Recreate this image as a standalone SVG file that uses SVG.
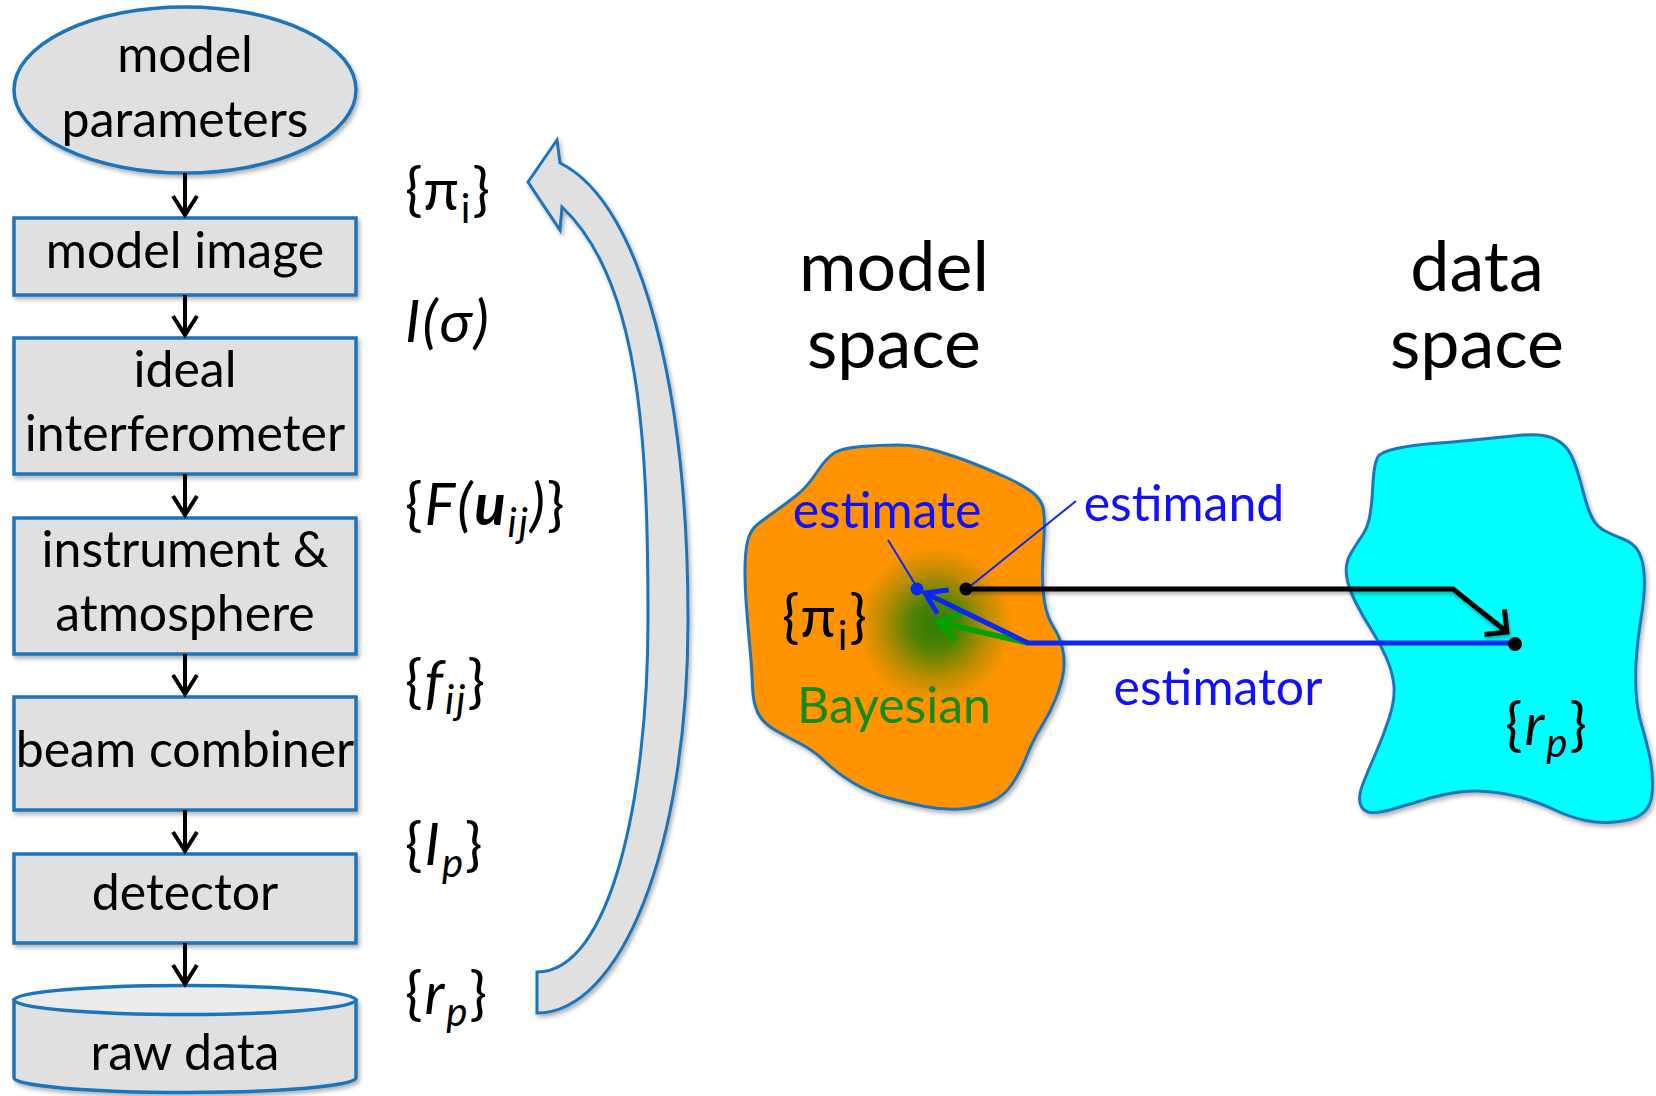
<svg xmlns="http://www.w3.org/2000/svg" width="1656" height="1096" viewBox="0 0 1656 1096">
<style>
text{font-family:Lato,"Open Sans","Liberation Sans",sans-serif;fill:#000}
.box{fill:#e0e0e0;stroke:#1b75bb;stroke-width:3.5}
.lbl{font-size:50px;text-anchor:middle}
.ttl{font-size:70px;text-anchor:middle}
.math{font-size:58px;letter-spacing:2px}
.it{font-style:italic}
.sub{font-size:40px}
.blue{fill:#1010ff}
.green{fill:#148a18}
.vline{stroke:#000;stroke-width:4;fill:none}
.blob{stroke:#1b75bb;stroke-width:3}
</style>
<defs>
<filter id="sh" x="-10%" y="-10%" width="125%" height="125%">
<feDropShadow dx="2" dy="3" stdDeviation="2" flood-color="#000" flood-opacity="0.3"/>
</filter>
<filter id="lsh" x="-5%" y="-50%" width="110%" height="200%">
<feDropShadow dx="1" dy="3" stdDeviation="1.5" flood-color="#000" flood-opacity="0.25"/>
</filter>
<radialGradient id="glow" cx="0.5" cy="0.5" r="0.5">
<stop offset="0" stop-color="#347d06" stop-opacity="1"/>
<stop offset="0.3" stop-color="#3a7f06" stop-opacity="0.9"/>
<stop offset="0.7" stop-color="#4a8004" stop-opacity="0.35"/>
<stop offset="1" stop-color="#4a8004" stop-opacity="0"/>
</radialGradient>
<marker id="ahv" markerUnits="userSpaceOnUse" viewBox="-25 -16 30 32" markerWidth="30" markerHeight="32" refX="0" refY="0" orient="auto" overflow="visible">
<path d="M -19,-12 L 0,0 L -19,12" fill="none" stroke="#000" stroke-width="4"/>
</marker>
<marker id="ahk" markerUnits="userSpaceOnUse" viewBox="-25 -20 30 40" markerWidth="30" markerHeight="40" refX="0" refY="0" orient="auto" overflow="visible">
<path d="M -16,-16 L 0,0 L -16,16" fill="none" stroke="#000" stroke-width="5"/>
</marker>
<marker id="ahb" markerUnits="userSpaceOnUse" viewBox="-25 -16 30 32" markerWidth="30" markerHeight="32" refX="0" refY="0" orient="auto" overflow="visible">
<path d="M -20,-13 L 0,0 L -20,13" fill="none" stroke="#0a28f5" stroke-width="5"/>
</marker>
<marker id="ahg" markerUnits="userSpaceOnUse" viewBox="-25 -16 30 32" markerWidth="30" markerHeight="32" refX="0" refY="0" orient="auto" overflow="visible">
<path d="M -22,-14 L 0,0 L -22,14" fill="none" stroke="#00a300" stroke-width="5.5"/>
</marker>
</defs>
<rect width="1656" height="1096" fill="#fff"/>

<g id="model-parameters">
<ellipse cx="185" cy="90" rx="171" ry="83" class="box" filter="url(#sh)"/>
<text class="lbl" x="185" y="72">model</text>
<text class="lbl" x="185" y="137">parameters</text>
</g>
<g id="model-image">
<rect x="14" y="218" width="342" height="77" class="box" filter="url(#sh)"/>
<text class="lbl" x="185" y="268">model image</text>
</g>
<g id="ideal-interferometer">
<rect x="14" y="338" width="342" height="136" class="box" filter="url(#sh)"/>
<text class="lbl" x="185" y="387">ideal</text>
<text class="lbl" x="185" y="451">interferometer</text>
</g>
<g id="instrument-atmosphere">
<rect x="14" y="518" width="342" height="136" class="box" filter="url(#sh)"/>
<text class="lbl" x="185" y="567">instrument &amp;</text>
<text class="lbl" x="185" y="631">atmosphere</text>
</g>
<g id="beam-combiner">
<rect x="14" y="697" width="342" height="113" class="box" filter="url(#sh)"/>
<text class="lbl" x="185" y="767">beam combiner</text>
</g>
<g id="detector">
<rect x="14" y="854" width="342" height="89" class="box" filter="url(#sh)"/>
<text class="lbl" x="185" y="910">detector</text>
</g>
<g id="raw-data">
<path d="M 14,1000 L 14,1078 A 171 14.5 0 0 0 356,1078 L 356,1000 Z" class="box" filter="url(#sh)"/>
<ellipse cx="185" cy="1000" rx="171" ry="14.5" class="box" style="fill:#ececec"/>
<text class="lbl" x="185" y="1070">raw data</text>
</g>

<g id="feedback-arrow">
<path d="M 528,182 L 557,140 L 560,163 C 645,205 688,400 688,620 C 688,850 620,1013 537,1013 L 537,972 C 610,972 648,800 648,620 C 648,440 640,280 562,207 L 560,230 Z" fill="#e0e0e0" stroke="#1b75bb" stroke-width="3" filter="url(#sh)"/>
</g>

<g id="math-labels">
<text class="math" x="405" y="210">{π<tspan class="sub" dy="13">i</tspan><tspan dy="-13">}</tspan></text>
<text class="math it" x="405" y="342">I(σ)</text>
<text class="math" x="405" y="525">{<tspan class="it">F(</tspan><tspan class="it" font-weight="bold">u</tspan><tspan class="sub it" dy="12">ij</tspan><tspan class="it" dy="-12">)</tspan>}</text>
<text class="math" x="405" y="702">{<tspan class="it">f</tspan><tspan class="sub it" dy="12">ij</tspan><tspan dy="-12">}</tspan></text>
<text class="math" x="405" y="865">{<tspan class="it">I</tspan><tspan class="sub it" dy="12">p</tspan><tspan dy="-12">}</tspan></text>
<text class="math" x="405" y="1014">{<tspan class="it">r</tspan><tspan class="sub it" dy="12">p</tspan><tspan dy="-12">}</tspan></text>
</g>

<g id="model-space">
<text class="ttl" x="894" y="291">model</text>
<text class="ttl" x="894" y="368">space</text>
<path class="blob" fill="#ff9400" filter="url(#sh)" d="M 747.5,541.5 Q 750,530 758.5,523.5 Q 767,517 777,510 Q 787,503 797,495 Q 807,487 817,472 Q 827,457 835,452.5 Q 843,448 861.5,446.5 Q 880,445 898.5,445 Q 917,445 937,451 Q 957,457 973.5,463.5 Q 990,470 1006.5,477.5 Q 1023,485 1032.5,492.5 Q 1042,500 1043.5,510 Q 1045,520 1044,536.5 Q 1043,553 1042.5,570 Q 1042,587 1044.5,602 Q 1047,617 1053.5,627 Q 1060,637 1062.5,648.5 Q 1065,660 1063.5,671.5 Q 1062,683 1056,698 Q 1050,713 1041.5,726.5 Q 1033,740 1026.5,756.5 Q 1020,773 1011.5,785 Q 1003,797 990,802.5 Q 977,808 960,809 Q 943,810 925,806.5 Q 907,803 888.5,798 Q 870,793 853.5,783 Q 837,773 825,761.5 Q 813,750 800,743.5 Q 787,737 775,730 Q 763,723 758,713 Q 753,703 752.5,686.5 Q 752,670 750,648.5 Q 748,627 746.5,607 Q 745,587 745,570 Q 745,553 747.5,541.5 Z"/>
<circle cx="935" cy="625" r="78" fill="url(#glow)"/>
<text class="math" x="782" y="637">{π<tspan class="sub" dy="13">i</tspan><tspan dy="-13">}</tspan></text>
<text class="lbl blue" x="887" y="528">estimate</text>
<text class="lbl green" x="894" y="723">Bayesian</text>
</g>

<g id="data-space">
<text class="ttl" x="1477" y="291">data</text>
<text class="ttl" x="1477" y="368">space</text>
<path class="blob" fill="#00ffff" filter="url(#sh)" d="M 1374,471.5 Q 1375,463 1377.5,457.5 Q 1380,452 1396.5,448.5 Q 1413,445 1433,443.5 Q 1453,442 1473,440 Q 1493,438 1513,436 Q 1533,434 1543,435.5 Q 1553,437 1560,442 Q 1567,447 1571,455 Q 1575,463 1578.5,475 Q 1582,487 1585,498.5 Q 1588,510 1592.5,518.5 Q 1597,527 1605,531 Q 1613,535 1623,539 Q 1633,543 1637.5,550 Q 1642,557 1643.5,568.5 Q 1645,580 1644,593.5 Q 1643,607 1640.5,622 Q 1638,637 1636.5,655 Q 1635,673 1636,691.5 Q 1637,710 1642,726.5 Q 1647,743 1650,758 Q 1653,773 1652.5,788 Q 1652,803 1646,810 Q 1640,817 1630,819.5 Q 1620,822 1608.5,822.5 Q 1597,823 1583.5,820 Q 1570,817 1555,810 Q 1540,803 1526.5,799 Q 1513,795 1496.5,792.5 Q 1480,790 1463.5,791.5 Q 1447,793 1430,798 Q 1413,803 1396.5,808 Q 1380,813 1371.5,812.5 Q 1363,812 1360.5,804.5 Q 1358,797 1362.5,785 Q 1367,773 1375,755 Q 1383,737 1389,718.5 Q 1395,700 1394,686.5 Q 1393,673 1386.5,658 Q 1380,643 1371.5,630 Q 1363,617 1355.5,602 Q 1348,587 1346.5,575 Q 1345,563 1351,553 Q 1357,543 1362.5,535 Q 1368,527 1370,515 Q 1372,503 1372.5,491.5 Q 1373,480 1374,471.5 Z"/>
<text class="math" x="1505" y="745">{<tspan class="it">r</tspan><tspan class="sub it" dy="12">p</tspan><tspan dy="-12">}</tspan></text>
</g>

<g id="connectors">
<line class="vline" x1="185" y1="173" x2="185" y2="215" marker-end="url(#ahv)"/>
<line class="vline" x1="185" y1="295" x2="185" y2="335" marker-end="url(#ahv)"/>
<line class="vline" x1="185" y1="474" x2="185" y2="515" marker-end="url(#ahv)"/>
<line class="vline" x1="185" y1="654" x2="185" y2="694" marker-end="url(#ahv)"/>
<line class="vline" x1="185" y1="810" x2="185" y2="851" marker-end="url(#ahv)"/>
<line class="vline" x1="185" y1="943" x2="185" y2="984" marker-end="url(#ahv)"/>
<path d="M 1028,643 L 938,622" fill="none" stroke="#00a300" stroke-width="5.5" marker-end="url(#ahg)"/>
<path d="M 966,589 L 1453,589 L 1507,632" fill="none" stroke="#000" stroke-width="5" marker-end="url(#ahk)" filter="url(#lsh)"/>
<path d="M 1515,643 L 1028,643 L 925,593" fill="none" stroke="#0a28f5" stroke-width="5" stroke-linejoin="round" marker-end="url(#ahb)"/>
<line x1="888" y1="540" x2="915" y2="584" stroke="#0a28f5" stroke-width="2"/>
<line x1="1076" y1="501" x2="968" y2="588" stroke="#0a28f5" stroke-width="2"/>
<circle cx="917" cy="589" r="6.5" fill="#0a28f5"/>
<circle cx="966" cy="589" r="6.5" fill="#000"/>
<circle cx="1515" cy="644" r="7" fill="#000"/>
<text class="lbl blue" x="1184" y="521">estimand</text>
<text class="lbl blue" x="1218" y="705">estimator</text>
</g>
</svg>
